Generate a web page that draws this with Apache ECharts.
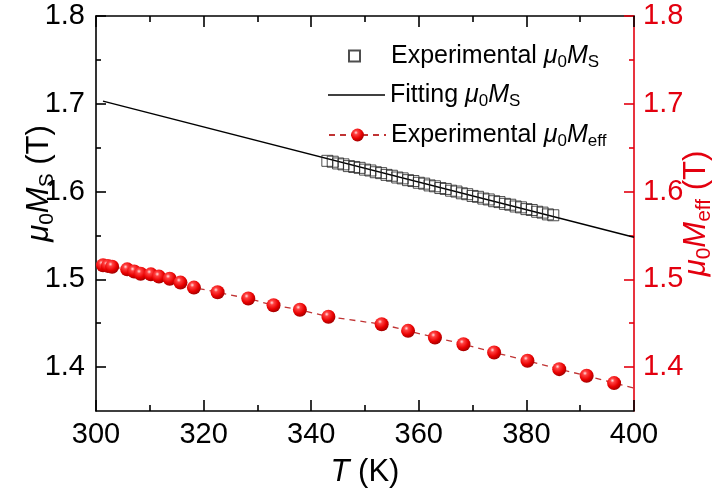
<!DOCTYPE html>
<html>
<head>
<meta charset="utf-8">
<script src="https://cdn.jsdelivr.net/npm/echarts@6/dist/echarts.min.js"></script>
<style>html,body{margin:0;padding:0;background:#fff;}#c{width:713px;height:491px;}</style>
</head>
<body>
<div id="c"></div>
<script>
// ---- data ----
const msT = [343,344,345,346,347,348,349,350,351,352,353,354,355,356,357,358,359,360,361,362,363,364,365,366,367,368,369,370,371,372,373,374,375,376,377,378,379,380,381,382,383,384,385];
const msV = [1.635,1.634,1.632,1.631,1.629,1.628,1.627,1.625,1.624,1.622,1.621,1.619,1.618,1.616,1.615,1.613,1.612,1.610,1.609,1.607,1.606,1.604,1.603,1.601,1.600,1.598,1.597,1.595,1.594,1.592,1.591,1.589,1.588,1.586,1.585,1.583,1.582,1.580,1.579,1.577,1.576,1.574,1.573];
const fitT = [301.3, 400];
const fitV = [1.703, 1.548];
const effT = [301.3,302.2,303.0,305.8,307.1,308.3,310.2,311.7,313.7,315.7,318.2,322.6,328.3,333.0,337.9,343.2,353.1,358.0,363.0,368.3,374.0,380.2,386.1,391.2,396.3];
const effV = [1.516,1.5153,1.5144,1.5114,1.509,1.5063,1.5057,1.5031,1.5006,1.4963,1.4906,1.4852,1.4781,1.4705,1.4653,1.4574,1.4489,1.4413,1.4338,1.4261,1.4167,1.4072,1.3977,1.3901,1.3818];
const effEndT = 400;
const effEndV = 1.376;
const yMajor = [1.4, 1.5, 1.6, 1.7, 1.8];
const yMinor = [1.45, 1.55, 1.65, 1.75];
const names = ['Experimental μ0MS', 'Fitting μ0MS', 'Experimental μ0Meff'];
const legendRich = {
  'Experimental μ0MS': '{sp|}Experimental {i|μ}{s|0}{i|M}{s|S}',
  'Fitting μ0MS': 'Fitting {i|μ}{s|0}{i|M}{s|S}',
  'Experimental μ0Meff': 'Experimental {i|μ}{s|0}{i|M}{s|eff}'
};

// ---- style ----
const FONT = '"Liberation Sans", Arial, sans-serif';
const RED = '#e3000f';
const BLACK = '#000';

const chart = echarts.init(document.getElementById('c'), null, {renderer: 'canvas'});

function legendTextStyle() {
  return {
    fontSize: 25, fontFamily: FONT, color: BLACK, lineHeight: 30,
    rich: {
      sp: {width: 26, lineHeight: 30},
      i: {fontStyle: 'italic', fontSize: 25, fontFamily: FONT, color: BLACK, lineHeight: 30},
      s: {fontSize: 17, fontFamily: FONT, color: BLACK, lineHeight: 14, verticalAlign: 'bottom'}
    }
  };
}
function nameStyle(color, padding) {
  return {
    fontSize: 31, fontFamily: FONT, color: color, lineHeight: 38, padding: padding,
    rich: {
      i: {fontStyle: 'italic', fontSize: 31, fontFamily: FONT, color: color, lineHeight: 38},
      s: {fontSize: 21, fontFamily: FONT, color: color, lineHeight: 17, verticalAlign: 'bottom'}
    }
  };
}
function mkLegend(name, left, top, itemWidth, itemHeight, icon) {
  const d = {name: name};
  if (icon) d.icon = icon;
  return {
    data: [d], orient: 'vertical', left: left, top: top, itemWidth: itemWidth, itemHeight: itemHeight,
    selectedMode: false, formatter: n => legendRich[n], textStyle: legendTextStyle()
  };
}
function yAxisMain(pos, color, name, nameGap, padding) {
  return {
    type: 'value', position: pos, min: 1.35, max: 1.8,
    axisLine: {show: true, onZero: false, lineStyle: {color: color, width: 1.6}},
    axisTick: {show: true, inside: true, length: 10, customValues: yMajor, lineStyle: {color: color, width: 1.6}},
    axisLabel: {show: true, customValues: yMajor, formatter: v => Number(v).toFixed(1), fontSize: 29, fontFamily: FONT, color: color, margin: pos === 'left' ? 11 : 9},
    splitLine: {show: false},
    name: name, nameLocation: 'middle', nameRotate: 90, nameGap: nameGap, nameMoveOverlap: false,
    nameTextStyle: nameStyle(color, padding)
  };
}
function yAxisMinor(pos, color) {
  return {
    type: 'value', position: pos, min: 1.35, max: 1.8,
    axisLine: {show: false},
    axisTick: {show: true, inside: true, length: 5, customValues: yMinor, lineStyle: {color: color, width: 1.6}},
    axisLabel: {show: false},
    splitLine: {show: false}
  };
}
function xAxisDef(pos, showLabel) {
  return {
    type: 'value', position: pos, min: 300, max: 400, interval: 20,
    axisLine: {show: true, onZero: false, lineStyle: {color: BLACK, width: 1.6}},
    axisTick: {show: true, inside: true, length: 11, lineStyle: {color: BLACK, width: 1.6}},
    minorTick: {show: true, splitNumber: 2, length: 6, lineStyle: {color: BLACK, width: 1.6}},
    axisLabel: {show: showLabel, fontSize: 29, fontFamily: FONT, color: BLACK, margin: 9},
    splitLine: {show: false},
    name: showLabel ? '{i|T} (K)' : '', nameLocation: 'middle', nameGap: 42, nameMoveOverlap: false,
    nameTextStyle: nameStyle(BLACK)
  };
}

const ball = {
  type: 'radial', x: 0.38, y: 0.32, r: 0.7,
  colorStops: [
    {offset: 0, color: '#ffe0e0'},
    {offset: 0.22, color: '#ff4040'},
    {offset: 0.65, color: '#e80000'},
    {offset: 1, color: '#a00000'}
  ]
};

const effData = effT.map((t, i) => [t, effV[i]]);
effData.push({value: [effEndT, effEndV], symbol: 'none'});

chart.setOption({
  animation: false,
  backgroundColor: '#fff',
  grid: {left: 96, right: 79, top: 16, bottom: 80, outerBoundsMode: 'none', containLabel: false},
  legend: [
    mkLegend(names[0], 343, 36, 11, 11),
    mkLegend(names[1], 323, 75, 57, 14, 'path://M0,0H100V2.6H0Z'),
    mkLegend(names[2], 323, 115, 57, 16)
  ],
  xAxis: [xAxisDef('bottom', true), xAxisDef('top', false)],
  yAxis: [
    yAxisMain('left', BLACK, '{i|μ}{s|0}{i|M}{s|S} (T)', 38, [0, 0, 0, 60]),
    yAxisMain('right', RED, '{i|μ}{s|0}{i|M}{s|eff} (T)', 43, [0, 0, 0, 0]),
    yAxisMinor('left', BLACK),
    yAxisMinor('right', RED)
  ],
  series: [
    {
      name: names[1], type: 'line', xAxisIndex: 0, yAxisIndex: 0,
      data: fitT.map((t, i) => [t, fitV[i]]),
      symbol: 'none', lineStyle: {color: BLACK, width: 1.5}, itemStyle: {color: BLACK}, z: 2
    },
    {
      name: names[0], type: 'scatter', xAxisIndex: 0, yAxisIndex: 0,
      data: msT.map((t, i) => [t, msV[i]]),
      symbol: 'rect', symbolSize: 11,
      itemStyle: {color: 'rgba(0,0,0,0)', borderColor: '#222', borderWidth: 1}, z: 3
    },
    {
      name: names[2], type: 'line', xAxisIndex: 0, yAxisIndex: 1,
      data: effData, symbol: 'circle', symbolSize: 14, showSymbol: true,
      lineStyle: {color: '#c03434', width: 1.3, type: [6, 5]},
      itemStyle: {color: ball, borderWidth: 0}, z: 4
    }
  ]
});
</script>
</body>
</html>
